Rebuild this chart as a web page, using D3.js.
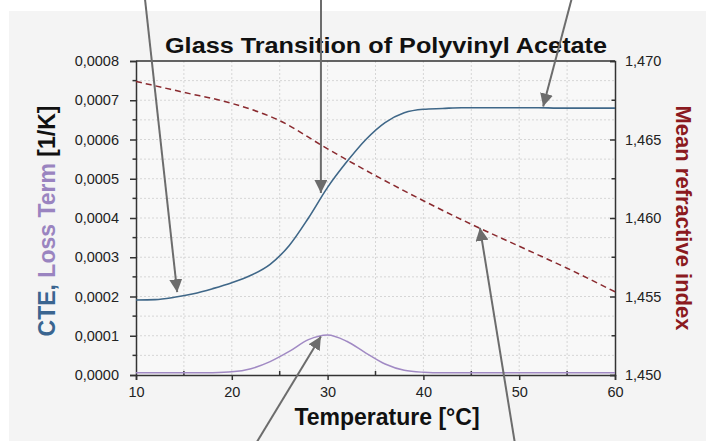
<!DOCTYPE html>
<html>
<head>
<meta charset="utf-8">
<script src="https://cdn.jsdelivr.net/npm/d3@7"></script>
<style>
  html, body { margin: 0; padding: 0; background: #fff; }
  svg { display: block; font-family: "Liberation Sans", Arial, sans-serif; }
</style>
</head>
<body>
<div id="graph-container"></div>
<script>
// temperatures [°C] for CTE and loss term
const temps = [10, 12, 14, 16, 18, 20, 22, 24, 26, 28, 30, 32, 34, 36, 38, 40, 42, 44, 46, 48, 50, 52, 54, 56, 58, 60]
// CTE [1/K]
const cte = [0.000191, 0.000192, 0.000198, 0.000207, 0.000220, 0.000235, 0.000254, 0.000282, 0.000330, 0.000400,
  0.000478, 0.000543, 0.000600, 0.000643, 0.000668, 0.000677, 0.000679, 0.000681, 0.000681, 0.000681,
  0.000681, 0.000681, 0.00068, 0.00068, 0.00068, 0.00068]
// loss term [1/K]
const loss = [0.0000055, 0.0000055, 0.0000055, 0.0000055, 0.000006, 0.000008, 0.000016, 0.000034, 0.000060, 0.000090,
  0.000102, 0.000086, 0.000056, 0.000028, 0.000012, 0.000007, 0.0000055, 0.0000055, 0.0000055, 0.0000055,
  0.0000055, 0.0000055, 0.0000055, 0.0000055, 0.0000055, 0.0000055]
// mean refractive index
const riTemps = [10, 15, 20, 25, 30, 35, 40, 45, 50, 55, 60]
const ri = [1.4687, 1.4680, 1.4673, 1.4662, 1.4644, 1.4627, 1.4611, 1.4596, 1.4582, 1.4568, 1.4553]

const xTicks = [10, 20, 30, 40, 50, 60]
const yTicks = [0, 0.0001, 0.0002, 0.0003, 0.0004, 0.0005, 0.0006, 0.0007, 0.0008]
const y2Ticks = [1.450, 1.455, 1.460, 1.465, 1.470]

// annotation arrows: start in pixels (off the picture edge), tip in data units
const arrows = [
  {from: [144, -10], to: [14.3, 0.000211]},
  {from: [321, -10], to: [29.3, 0.000464]},
  {from: [574, -10], to: [52.5, 0.000684]},
  {from: [252, 450], to: [29.3, 0.000098]},
  {from: [516, 450], to: [45.9, 0.000375]}
]

const width = 706
const height = 441
const m = {left: 136, right: 91, top: 61, bottom: 66}

const svg = d3.select("#graph-container")
  .append("svg")
  .attr("width", width)
  .attr("height", height)

// grey panel
svg.append("rect")
  .attr("x", 9).attr("y", 11)
  .attr("width", width - 9).attr("height", height - 11)
  .attr("fill", "#f4f4f4")

const x = d3.scaleLinear().domain([10, 60]).range([m.left, width - m.right])
const y = d3.scaleLinear().domain([0, 0.0008]).range([height - m.bottom, m.top])
const y2 = d3.scaleLinear().domain([1.450, 1.470]).range([height - m.bottom, m.top])

svg.append("rect")
  .attr("x", x(10)).attr("y", y(0.0008))
  .attr("width", x(60) - x(10)).attr("height", y(0) - y(0.0008))
  .attr("fill", "#f8f8f8")

// dotted grid
const fmt = d3.format(".4f")
const comma = s => s.replace(".", ",")

svg.append("g")
  .selectAll("line")
  .data(d3.range(15, 60, 5))
  .enter().append("line")
  .attr("x1", d => x(d)).attr("x2", d => x(d))
  .attr("y1", y(0)).attr("y2", y(0.0008))
  .attr("stroke", "#d6d6d6").attr("stroke-dasharray", "2,2")

svg.append("g")
  .selectAll("line")
  .data(d3.range(1, 16).map(i => i * 0.00005))
  .enter().append("line")
  .attr("x1", x(10)).attr("x2", x(60))
  .attr("y1", d => y(d)).attr("y2", d => y(d))
  .attr("stroke", "#d6d6d6").attr("stroke-dasharray", "2,2")

// axes
const axisColor = "#333"

const xAxis = svg.append("g")
  .attr("transform", `translate(0,${y(0)})`)
  .call(d3.axisBottom(x).tickValues(xTicks).tickSize(5).tickPadding(7))
xAxis.append("g").selectAll("line")
  .data(d3.range(15, 60, 10))
  .enter().append("line")
  .attr("x1", d => x(d)).attr("x2", d => x(d))
  .attr("y1", 0).attr("y2", -4)
  .attr("stroke", axisColor).attr("stroke-width", 1.5)

const yAxis = svg.append("g")
  .attr("transform", `translate(${x(10)},0)`)
  .call(d3.axisLeft(y).tickValues(yTicks).tickSize(6).tickPadding(11).tickFormat(d => comma(fmt(d))))
yAxis.append("g").selectAll("line")
  .data(d3.range(0, 8).map(i => i * 0.0001 + 0.00005))
  .enter().append("line")
  .attr("x1", 0).attr("x2", -3.5)
  .attr("y1", d => y(d)).attr("y2", d => y(d))
  .attr("stroke", axisColor).attr("stroke-width", 1.5)

const y2Axis = svg.append("g")
  .attr("transform", `translate(${x(60)},0)`)
  .call(d3.axisRight(y2).tickValues(y2Ticks).tickSize(-5).tickPadding(10).tickFormat(d => comma(d3.format(".3f")(d))))
y2Axis.append("g").selectAll("line")
  .data([1.4525, 1.4575, 1.4625, 1.4675])
  .enter().append("line")
  .attr("x1", 0).attr("x2", -3.5)
  .attr("y1", d => y2(d)).attr("y2", d => y2(d))
  .attr("stroke", axisColor).attr("stroke-width", 1.5)

// top border
svg.append("line")
  .attr("x1", x(10)).attr("x2", x(60))
  .attr("y1", y(0.0008)).attr("y2", y(0.0008))
  .attr("stroke", axisColor).attr("stroke-width", 1.5)

svg.selectAll(".domain").attr("stroke", axisColor).attr("stroke-width", 1.5)
svg.selectAll(".tick line").attr("stroke", axisColor).attr("stroke-width", 1.5)
svg.selectAll(".tick text")
  .style("font-family", "Liberation Sans, Arial, sans-serif")
  .style("font-size", "14.5px")
  .attr("fill", "#222")

// series
const lossLine = d3.line().x((d, i) => x(temps[i])).y(d => y(d)).curve(d3.curveMonotoneX)
const cteLine = d3.line().x((d, i) => x(temps[i])).y(d => y(d)).curve(d3.curveMonotoneX)
const riLine = d3.line().x((d, i) => x(riTemps[i])).y(d => y2(d)).curve(d3.curveMonotoneX)

svg.append("path").datum(loss)
  .attr("d", lossLine)
  .attr("fill", "none").attr("stroke", "#a18ac4").attr("stroke-width", 1.5)

svg.append("path").datum(ri)
  .attr("d", riLine)
  .attr("fill", "none").attr("stroke", "#8a2a2f").attr("stroke-width", 1.5)
  .attr("stroke-dasharray", "6,4")

svg.append("path").datum(cte)
  .attr("d", cteLine)
  .attr("fill", "none").attr("stroke", "#3f6788").attr("stroke-width", 1.6)

// title and axis labels
svg.append("text")
  .attr("x", 165).attr("y", 53)
  .attr("textLength", 442).attr("lengthAdjust", "spacingAndGlyphs")
  .style("font-size", "22px").style("font-weight", "bold")
  .attr("fill", "#111")
  .text("Glass Transition of Polyvinyl Acetate")

svg.append("text")
  .attr("x", 387).attr("y", 425)
  .attr("text-anchor", "middle")
  .style("font-size", "23px").style("font-weight", "bold")
  .attr("fill", "#111")
  .text("Temperature [°C]")

const yLabel = svg.append("text")
  .attr("transform", "translate(55,221) rotate(-90)")
  .attr("text-anchor", "middle")
  .style("font-size", "23px").style("font-weight", "bold")
yLabel.append("tspan").attr("fill", "#3a6590").text("CTE, ")
yLabel.append("tspan").attr("fill", "#9a84c0").text("Loss Term ")
yLabel.append("tspan").attr("fill", "#111").text("[1/K]")

svg.append("text")
  .attr("transform", "translate(676,218) rotate(90)")
  .attr("text-anchor", "middle")
  .style("font-size", "22px").style("font-weight", "bold")
  .attr("fill", "#8b1a1f")
  .text("Mean refractive index")

// arrows
svg.append("defs").append("marker")
  .attr("id", "head")
  .attr("viewBox", "0 0 10 10")
  .attr("refX", 10).attr("refY", 5)
  .attr("markerWidth", 6.5).attr("markerHeight", 6.5)
  .attr("markerUnits", "strokeWidth")
  .attr("orient", "auto")
  .append("path")
  .attr("d", "M0,0 L10,5 L0,10 Z")
  .attr("fill", "#6c6c6c")

svg.append("g")
  .selectAll("line")
  .data(arrows)
  .enter().append("line")
  .attr("x1", d => d.from[0]).attr("y1", d => d.from[1])
  .attr("x2", d => x(d.to[0])).attr("y2", d => y(d.to[1]))
  .attr("stroke", "#6c6c6c").attr("stroke-width", 2)
  .attr("marker-end", "url(#head)")
</script>
</body>
</html>
